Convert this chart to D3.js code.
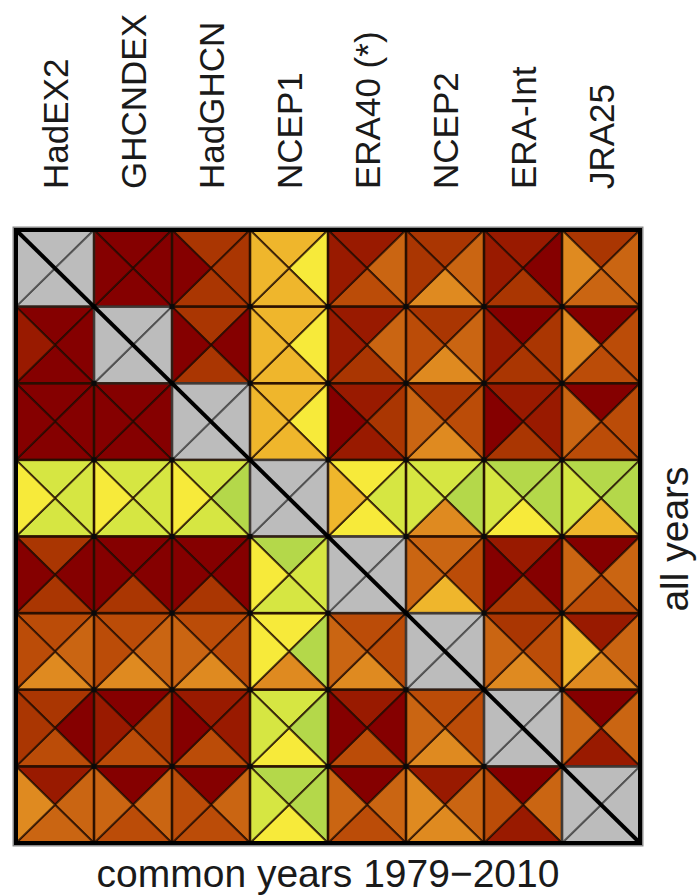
<!DOCTYPE html>
<html>
<head>
<meta charset="utf-8">
<script src="https://cdn.jsdelivr.net/npm/d3@7"></script>
<style>
html,body{margin:0;padding:0;background:#fff;}
svg{display:block;}
text{font-family:"Liberation Sans",Arial,Helvetica,sans-serif;fill:#1a1a1a;}
</style>
</head>
<body>
<svg id="chart" width="700" height="896"></svg>
<script>
// Datasets (rows and columns)
const datasets = ["HadEX2","GHCNDEX","HadGHCN","NCEP1","ERA40 (*)","NCEP2","ERA-Int","JRA25"];
const xTitle = "common years 1979\u22122010";
const yTitle = "all years";

// Colour levels (0 = dark red ... 9 = green); null = diagonal (grey)
const levelColors = ["#850000","#991a00","#aa3602","#bb4c08","#ca6512","#df8a20","#efb62c","#f7ea3a","#d6e642","#b4d84a"];

// value level for each triangle of each cell (row = dataset, col = dataset)
const topVals = [
  [null,0,2,6,1,2,1,2],
  [0,null,2,6,1,2,0,0],
  [0,0,null,6,1,2,1,0],
  [8,8,8,null,7,8,9,9],
  [2,0,0,9,null,4,1,0],
  [3,3,3,7,3,null,2,1],
  [2,0,1,8,1,3,null,0],
  [1,0,0,9,0,1,0,null]
];
const rightVals = [
  [null,0,2,7,4,4,0,4],
  [0,null,0,7,4,4,2,3],
  [0,0,null,7,2,3,1,3],
  [8,8,9,null,8,9,9,9],
  [0,0,0,8,null,3,0,4],
  [4,4,3,9,3,null,3,4],
  [0,2,1,9,0,3,null,4],
  [4,4,4,9,4,4,4,null]
];
const bottomVals = [
  [null,0,2,6,3,5,2,4],
  [0,null,2,6,2,5,2,3],
  [0,0,null,6,1,5,2,3],
  [8,8,8,null,7,5,7,6],
  [2,2,2,8,null,6,2,3],
  [5,5,5,5,5,null,5,5],
  [3,3,3,7,3,5,null,1],
  [4,3,3,7,3,5,1,null]
];
const leftVals = [
  [null,0,0,6,1,2,1,5],
  [1,null,0,6,1,3,1,5],
  [0,0,null,6,0,4,0,4],
  [7,7,7,null,6,8,8,8],
  [0,0,0,7,null,4,0,4],
  [3,3,4,7,4,null,4,6],
  [2,1,0,8,0,4,null,4],
  [5,4,3,8,4,5,3,null]
];

const svg = d3.select("#chart");
const x = d3.scaleBand().domain(datasets).range([16, 640]).padding(0);
const y = d3.scaleBand().domain(datasets).range([230, 843]).padding(0);
const color = d3.scaleOrdinal().domain(d3.range(levelColors.length)).range(levelColors);
const grey = "#bcbcbc";

const cells = [];
datasets.forEach((rn, ri) => {
  datasets.forEach((cn, ci) => {
    cells.push({rn, cn, ri, ci,
      vals: [topVals[ri][ci], rightVals[ri][ci], bottomVals[ri][ci], leftVals[ri][ci]]});
  });
});

function tri(d, k) {
  const x0 = x(d.cn), y0 = y(d.rn), w = x.bandwidth(), h = y.bandwidth();
  const x1 = x0 + w, y1 = y0 + h, cx = x0 + w / 2, cy = y0 + h / 2;
  const pts = [
    [[x0,y0],[x1,y0],[cx,cy]],
    [[x1,y0],[x1,y1],[cx,cy]],
    [[x1,y1],[x0,y1],[cx,cy]],
    [[x0,y1],[x0,y0],[cx,cy]]
  ][k];
  return "M" + pts.map(p => p.join(",")).join("L") + "Z";
}

const gCells = svg.append("g");
const tris = [];
cells.forEach(d => d.vals.forEach((v, k) => tris.push({d, v, k})));

gCells.selectAll("path.tri").data(tris).join("path")
  .attr("class", "tri")
  .attr("d", t => tri(t.d, t.k))
  .attr("fill", t => t.v === null ? grey : color(t.v))
  .attr("stroke", t => t.v === null ? "rgba(70,70,70,0.8)" : "rgba(30,10,0,0.72)")
  .attr("stroke-width", 2)
  .attr("stroke-linejoin", "round");

// cell borders
gCells.selectAll("rect.cell").data(cells).join("rect")
  .attr("class", "cell")
  .attr("x", d => x(d.cn)).attr("y", d => y(d.rn))
  .attr("width", x.bandwidth()).attr("height", y.bandwidth())
  .attr("fill", "none")
  .attr("stroke", d => d.ri === d.ci ? "rgba(70,70,70,0.6)" : "rgba(40,15,0,0.6)")
  .attr("stroke-width", 2.5);

// corner dots
const corners = [];
for (let i = 1; i < datasets.length; i++)
  for (let j = 1; j < datasets.length; j++)
    corners.push([x(datasets[j]), y(datasets[i])]);
gCells.selectAll("rect.dot").data(corners).join("rect")
  .attr("class", "dot")
  .attr("x", p => p[0] - 2.5).attr("y", p => p[1] - 2.5)
  .attr("width", 5).attr("height", 5)
  .attr("fill", "#0a0a0a");

// outer frame
const [gx0, gx1] = x.range(), [gy0, gy1] = y.range();
svg.append("rect")
  .attr("x", gx0 - 2.5).attr("y", gy0 - 2.5)
  .attr("width", gx1 - gx0 + 5).attr("height", gy1 - gy0 + 5)
  .attr("fill", "none").attr("stroke", "#8a8a8a").attr("stroke-width", 2);
svg.append("rect")
  .attr("x", gx0).attr("y", gy0)
  .attr("width", gx1 - gx0).attr("height", gy1 - gy0)
  .attr("fill", "none").attr("stroke", "#000").attr("stroke-width", 4);

// diagonal line
svg.append("line")
  .attr("x1", gx0).attr("y1", gy0).attr("x2", gx1).attr("y2", gy1)
  .attr("stroke", "#000").attr("stroke-width", 4);

// column labels
svg.append("g").selectAll("text").data(datasets).join("text")
  .attr("transform", d => `translate(${x(d) + x.bandwidth() / 2 + 12.5},189) rotate(-90)`)
  .attr("text-anchor", "start")
  .style("font-size", "35px")
  .text(d => d);

// bottom title
svg.append("text")
  .attr("x", (gx0 + gx1) / 2).attr("y", 887)
  .attr("text-anchor", "middle")
  .style("font-size", "39px")
  .text(xTitle);

// right title
svg.append("text")
  .attr("transform", `translate(688,539) rotate(-90)`)
  .attr("text-anchor", "middle")
  .style("font-size", "39px")
  .text(yTitle);
</script>
</body>
</html>
